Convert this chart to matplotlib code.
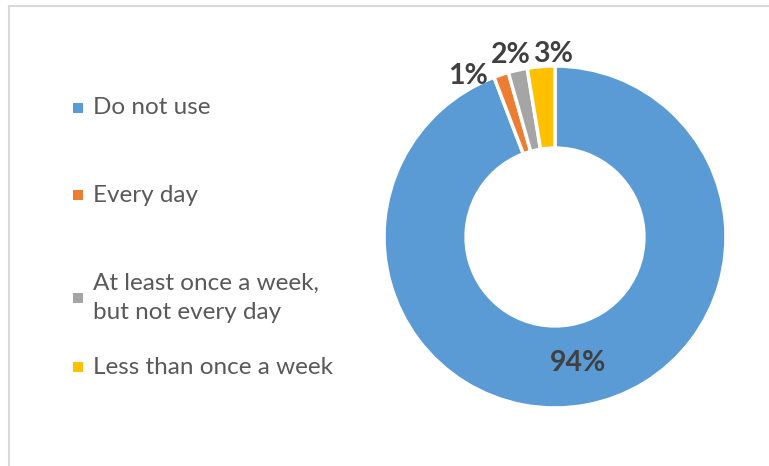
import matplotlib
matplotlib.use("Agg")

import numpy as np
import matplotlib.pyplot as plt
from matplotlib.patches import Rectangle
from matplotlib.lines import Line2D

# data
categories = ["Do not use", "Every day", "At least once a week,\nbut not every day", "Less than once a week"]
shares = [94.2, 1.4, 1.8, 2.6]
pct_labels = ["94%", "1%", "2%", "3%"]
colors = ["#5B9BD5", "#ED7D31", "#A5A5A5", "#FFC000"]

W, H = 769, 466
DPI = 100

plt.rcParams["font.family"] = ["Lato", "DejaVu Sans"]

fig = plt.figure(figsize=(W / DPI, H / DPI), dpi=DPI)
fig.patch.set_facecolor("white")

# donut geometry in pixels
cx, cy, r = 555, 237, 171
ax = fig.add_axes([(cx - r) / W, (H - cy - r) / H, 2 * r / W, 2 * r / H])

wedges, _ = ax.pie(
    shares,
    colors=colors,
    startangle=90,
    counterclock=False,
    radius=1.0,
    wedgeprops=dict(width=0.48, edgecolor="white", linewidth=2.5),
)
ax.set_xlim(-1, 1)
ax.set_ylim(-1, 1)
ax.set_aspect("equal")
ax.axis("off")

# label placement: big slice inside the ring, small ones outside (Excel "best fit")
label_r = [0.75, 1.07, 1.095, 1.07]
label_dtheta = [0, 10, 1, -4]
for w, txt, lr, dt in zip(wedges, pct_labels, label_r, label_dtheta):
    mid = np.deg2rad((w.theta1 + w.theta2) / 2 + dt)
    ax.text(lr * np.cos(mid), lr * np.sin(mid), txt,
            ha="center", va="center", fontsize=20.5, fontweight="bold",
            color="#404040")

# legend, drawn by hand to keep Excel spacing
legend_y = [108, 195, 298, 367]
for cat, col, y in zip(categories, colors, legend_y):
    fig.patches.append(Rectangle((73 / W, (H - y - 5) / H), 10 / W, 10 / H,
                                 transform=fig.transFigure, facecolor=col,
                                 edgecolor="none"))
    fig.text(93 / W, (H - y) / H, cat, ha="left", va="center",
             fontsize=17.5, color="#595959", linespacing=1.5)

# chart area border (only top and left visible)
fig.add_artist(Line2D([8.5 / W, 1], [(H - 6) / H, (H - 6) / H],
                      transform=fig.transFigure, color="#D9D9D9", linewidth=1.5))
fig.add_artist(Line2D([8.5 / W, 8.5 / W], [0, (H - 6) / H],
                      transform=fig.transFigure, color="#D9D9D9", linewidth=1.5))

fig.savefig("out.png", dpi=DPI)
